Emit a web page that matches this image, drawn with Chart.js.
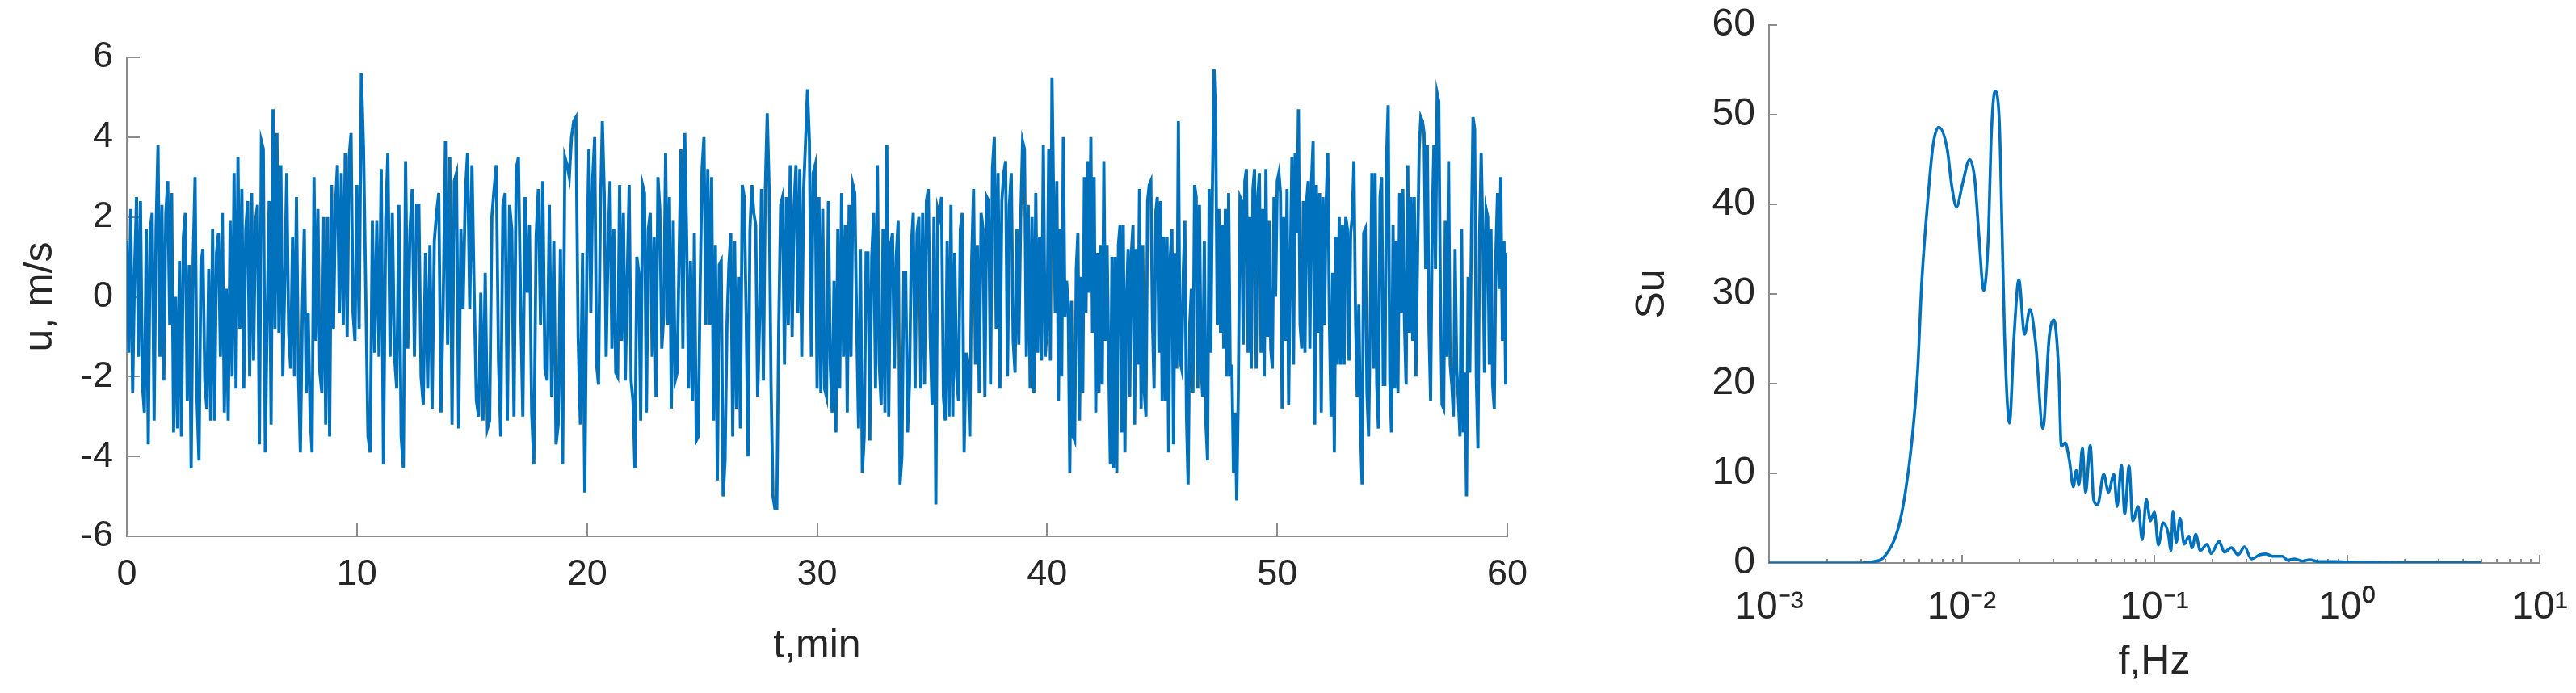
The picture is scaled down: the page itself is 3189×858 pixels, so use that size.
<!DOCTYPE html>
<html>
<head>
<meta charset="utf-8">
<title>u(t) and spectrum</title>
<script src="https://cdn.jsdelivr.net/npm/chart.js@4.4.1/dist/chart.umd.min.js"></script>
<style>
  html, body { margin: 0; padding: 0; background: #fff; }
  #wrap { position: relative; width: 3189px; height: 858px; overflow: hidden; }
  canvas { position: absolute; top: 0; }
</style>
</head>
<body>
<div id="wrap">
  <canvas id="timeChart" width="1950" height="858" style="left:0"></canvas>
  <canvas id="specChart" width="1239" height="858" style="left:1950px"></canvas>
</div>
<script>
// u, m/s, one block per 10 minutes (peaks and troughs in order)
const u0to10 = [1.4, -1.4, 2.2, -2.4, 0.7, 2.5, -1.5, 2.4, -2.2, -2.9, 1.7, -3.7, 1.7, 2.1, -3.1, 1.7, 3.8, -1.5, 2.3, -2.1,
  2.1, 2.9, -0.7, 2.6, -3.4, 0.0, -3.3, 0.9, -3.5, 1.5, 2.1, -2.6, 0.8, -4.3, 0.9, 3.0, -2.6, -4.1, 0.8, 1.2,
  -2.1, -2.8, 0.7, -3.1, 1.7, -3.1, 1.1, 1.6, -1.5, 2.1, -2.9, 0.2, -3.1, 1.9, -2.0, 3.1, -2.3, 3.5, -0.8, 2.7,
  -2.3, 1.7, 2.4, -2.0, 2.6, -1.6, 1.9, 2.3, -3.7, 3.9, 3.7, -3.9, -0.4, 2.4, -3.2, 4.7, -0.8, 4.1, -0.9, 3.3,
  -2.0, 0.4, 3.1, -0.9, -1.8, 1.5, -2.0, 2.5, -1.9, -3.9, -0.4, 1.7, -2.4, -0.4, -3.0, -3.9, 3.0, -1.1, 2.2, -1.9,
  -2.4, 2.0, -3.2, 2.0, -3.5, 2.8, -0.8, 2.3, 3.3, -0.4, 3.1, -0.7, 3.6, -1.0, 3.5, 4.1, -0.4, -1.1];
const u10to20 = [2.8, -0.8, 5.6, 3.7, 0.1, -3.5, -3.9, 1.9, -1.4, 1.9, -1.5, 3.2, -4.2, 1.9, 3.6, -1.5, 2.1, -1.5, -2.3, 2.3,
  -3.5, -4.3, 3.4, -1.3, 1.7, 2.7, -1.5, 2.3, 2.3, -2.0, -2.7, 1.1, -2.3, 1.3, -2.8, 1.4, 2.1, 2.6, -2.9, -0.2,
  3.9, -1.2, 3.5, -3.2, 2.9, 3.1, -3.3, 1.7, -0.3, 2.6, 3.6, -0.3, 3.3, 0.1, -2.6, -3.0, 0.1, -3.1, 0.6, -3.3,
  -3.1, 2.0, 2.7, 3.3, -1.6, -3.5, 2.3, 2.6, -3.1, 2.3, 1.7, -3.0, 3.2, 3.5, -0.2, -3.0, 2.5, 0.1, 1.8, -2.9,
  -4.2, 1.5, 2.7, -0.7, 2.9, -1.8, -2.1, 2.3, -2.5, 1.4, -3.7, -3.2, 1.2, -4.2, 3.5, 3.3, 3.0, 4.0, 4.4, 4.5,
  -1.0, -3.2, 1.1, -4.9];
const u20to30 = [1.1, 3.7, -0.4, 3.0, 4.0, -1.7, -2.2, 2.2, 4.4, 2.6, -1.5, 1.3, 2.9, -1.3, 1.7, -1.9, -2.0, 2.8, -1.1, 2.1,
  -2.1, 0.5, 2.8, -2.1, -2.6, -4.3, 1.0, 0.6, -3.1, 2.8, 2.6, -2.9, 1.7, 2.1, -1.5, 1.5, -2.5, 3.0, 2.2, -1.3,
  -0.5, 3.6, -0.7, 2.5, -2.8, 1.9, -2.1, -1.9, 0.9, 3.7, -1.3, 4.1, 1.4, -2.3, 0.9, -2.6, 1.6, -3.6, -3.5, 0.2,
  3.2, 4.0, -0.7, 3.2, -0.7, 3.0, -3.1, 1.3, -4.6, 0.8, 0.9, -5.0, -4.1, -0.7, 0.8, 1.6, -3.5, 1.4, -2.8, 0.5,
  -3.3, 2.8, 2.5, -0.4, -4.0, 1.7, 2.8, 2.1, 1.8, -2.5, -0.6, 2.7, -2.1, 2.7, 4.6, 2.7, -2.2, -5.0, -5.3, -5.3,
  -0.8, 2.3, 2.5, -1.7, 2.5, -0.7, 3.3, -1.0, 2.3, 3.3, -0.4, 3.2, -1.5, 2.7, 3.9, 5.2, 3.9, -1.5, 3.1, 3.3];
const u30to40 = [-2.3, 2.5, -2.4, 2.2, -2.3, -2.5, 2.4, -1.7, -2.9, 0.4, -3.4, 1.7, -2.3, 2.6, -1.5, 1.8, -2.9, 2.3, -1.5, 2.8,
  2.6, -0.7, -3.3, 1.2, -4.4, -3.5, 1.1, 1.1, -3.6, 1.0, 2.1, -2.3, 3.3, -1.7, -2.7, 1.7, -2.9, 3.8, -3.0, 1.3,
  1.6, -1.8, 1.0, 1.9, -4.7, -4.0, 0.6, 0.6, -3.4, -2.2, 1.3, 2.1, -2.3, 1.6, 2.0, -2.3, 2.1, -2.2, 2.4, 2.7,
  -1.0, -2.7, 2.0, -5.2, 2.2, 2.0, 2.5, -2.5, -3.1, 1.4, -3.0, 2.3, -3.0, 1.1, -2.0, -2.6, 1.7, 2.1, -3.9, -1.4,
  -1.8, -3.5, 0.9, 2.7, -1.7, 1.3, -2.4, 2.1, 1.7, -2.5, 2.5, 2.4, -2.2, 3.2, 4.0, -0.8, 3.1, -2.3, 2.4, 3.1,
  3.4, -2.0, 2.3, 3.1, -1.1, -1.9, 1.7, -1.2, 2.0, 3.9, 3.7, -1.5, 2.3, -2.3, 2.0, -2.4, 2.6, -1.4, 1.5, -1.6,
  3.8, -1.5];
const u40to50 = [-0.8, 3.7, -1.6, 5.5, 2.5, -0.4, 2.9, -2.6, 1.7, -2.0, 4.0, -0.5, 0.4, -0.2, -4.4, -0.1, -3.5, -3.6, 0.7, 1.6,
  -3.1, 0.5, -2.4, 3.0, -0.4, 3.4, 0.1, 4.0, -0.9, 3.0, -2.9, 1.1, -2.4, 1.3, -2.2, 3.4, -1.1, 1.3, -1.7, -4.2,
  1.0, -4.3, 1.0, -4.4, 1.3, 1.8, -3.4, 1.8, -3.9, -0.1, 1.2, -2.5, 1.1, 1.8, -3.2, 1.2, -1.7, 2.7, -2.8, 1.3,
  -2.4, -3.0, 2.4, 2.8, 2.9, -0.6, -2.3, 2.1, 2.5, -1.4, 2.4, -2.6, 1.5, -2.6, 1.5, -3.9, 1.0, 1.7, -3.7, 1.1,
  -1.8, 4.4, -1.6, -1.8, 0.6, 1.9, -3.0, -4.7, -0.7, 0.2, -2.4, 2.8, 2.5, -2.3, 2.3, -1.8, -2.5, 1.4, -3.2, -4.1,
  2.7, -1.4, 2.7, 5.7, 4.5, -0.7, 2.2, -0.9, 1.8, -1.3, 2.2, -2.0, 2.6, -2.0, -1.7, -4.4, -2.9, -5.1, -2.3, 2.5,
  2.4, -1.2, 2.9, 3.2, -1.4, 2.0, -1.8, 2.7, 3.2, -1.8, 2.5, 3.1, -1.4, 2.2, -2.0, 3.2, -1.0, 1.9, -1.3, -1.8,
  2.5, 0.0];
const u50to60 = [2.9, 3.1, 2.6, -2.8, 2.0, -1.1, 2.7, -2.7, 0.7, 3.5, -1.7, 3.6, 1.6, 4.7, -0.7, -1.3, 2.4, -1.4, 2.4, 2.9,
  -1.3, 2.9, 3.9, -3.2, 2.8, -0.9, 2.6, -2.9, 2.5, -0.7, 2.4, 3.6, -0.7, -3.0, 0.6, -3.9, 1.5, -1.7, 2.0, -1.7,
  1.8, -1.7, 2.0, 1.7, -1.6, 1.6, 2.0, 3.4, -0.5, -2.5, -0.2, -3.3, -4.7, 1.6, 1.7, -2.4, -3.5, -0.6, 3.1, -1.8,
  3.1, -2.2, -3.3, 2.5, 3.0, -2.2, -2.2, 3.5, 4.8, -2.1, -3.4, 1.8, -2.3, 1.4, -2.4, 2.6, -0.4, 2.7, -0.7, -2.2,
  3.3, -0.9, 2.5, -1.1, 2.5, -2.0, 1.0, 3.7, 4.5, 4.4, 4.1, 0.7, 3.8, -0.8, -2.6, 1.8, 3.8, 0.7, 5.1, 4.9,
  0.1, -2.7, -2.8, 1.9, -1.5, 3.4, -1.7, -2.2, -3.0, 1.2, -1.8, -2.6, -3.5, 1.7, -3.4, -1.9, -5.0, 0.5, -1.9, 1.5,
  4.5, 4.2, -2.0, -3.8, 1.5, 3.6, 1.6, -1.9, 2.2, 2.0, -1.7, 1.7, -2.2, -2.8, 1.1, 2.6, 0.2, 3.0, -1.1, 1.4,
  -2.2, 1.1];
const uBlocks = [u0to10, u10to20, u20to30, u30to40, u40to50, u50to60];

// spectrum Su(f)
const freqHz = [0.001, 0.0029, 0.0034, 0.0040, 0.0047, 0.0051, 0.0055, 0.0059, 0.0062, 0.0067,
  0.0071, 0.0076, 0.0084, 0.0089, 0.0094, 0.0101, 0.0110, 0.0117, 0.0123, 0.0130,
  0.0138, 0.0142, 0.0149, 0.0157, 0.0162, 0.0167, 0.0177, 0.0187, 0.0198, 0.0212,
  0.0226, 0.0242, 0.0264, 0.0285, 0.0301, 0.0319, 0.0329, 0.0345, 0.0362, 0.0380,
  0.0393, 0.0406, 0.0423, 0.0440, 0.0465, 0.0484, 0.0508, 0.0546, 0.0578, 0.0617,
  0.0641, 0.0675, 0.0702, 0.0739, 0.0773, 0.0824, 0.0865, 0.0909, 0.0954, 0.100,
  0.105, 0.111, 0.118, 0.122, 0.125, 0.130, 0.136, 0.143, 0.151, 0.157,
  0.164, 0.173, 0.188, 0.197, 0.217, 0.231, 0.251, 0.272, 0.294, 0.319,
  0.352, 0.381, 0.413, 0.462, 0.493, 0.535, 0.589, 0.638, 0.715, 0.867,
  1.0, 1.32, 2.14, 5.0];
const suValues = [0, 0, 0.1, 0.8, 4.0, 7.9, 13.4, 21.3, 31.2, 41.0,
  46.6, 48.6, 46.2, 41.9, 39.7, 42.3, 45.0, 42.7, 36.4, 30.4,
  37.2, 47.0, 52.6, 49.0, 37.2, 25.3, 15.6, 25.3, 31.6, 25.5,
  28.3, 24.5, 15.0, 25.3, 27.1, 21.3, 13.0, 13.4, 11.5, 8.5,
  10.3, 8.7, 12.8, 7.9, 13.1, 7.1, 6.5, 9.9, 7.9, 9.9,
  6.3, 10.9, 5.5, 10.8, 4.7, 6.3, 2.6, 7.1, 4.7, 5.7,
  2.0, 4.5, 3.3, 1.4, 5.7, 2.3, 5.0, 2.1, 3.0, 1.7,
  3.2, 1.4, 2.1, 1.05, 2.4, 1.2, 1.7, 0.9, 1.8, 0.45,
  0.9, 1.0, 0.75, 0.75, 0.3, 0.45, 0.2, 0.36, 0.15, 0.15,
  0.1, 0.06, 0.02, 0.01];

const freqTicks = [0.001, 0.01, 0.1, 1, 10];
const freqTickLabels = ['10\u207B\u00B3', '10\u207B\u00B2', '10\u207B\u00B9', '10\u2070', '10\u00B9'];

const LINE_BLUE = '#0072BD';
const AXIS_GRAY = '#8c8c8c';
const TEXT = '#262626';
const FONT = "'Liberation Sans', Arial, Helvetica, sans-serif";

// time points: each 10-minute block is sampled evenly
const timeSeries = [];
uBlocks.forEach((block, b) => {
  const last = b === uBlocks.length - 1;
  const step = 10 / (last ? block.length - 1 : block.length);
  block.forEach((v, i) => timeSeries.push({ x: b * 10 + i * step, y: v }));
});

const spectrum = [];
for (let i = 0; i < Math.min(freqHz.length, suValues.length); i++) {
  spectrum.push({ x: freqHz[i], y: suValues[i] });
}

// minor ticks of the log axis (2..9 in each decade)
const freqMinor = [];
freqTicks.slice(0, -1).forEach(d => { for (let k = 2; k <= 9; k++) freqMinor.push(d * k); });

// MATLAB style ticks pointing into the plot
const insideTicks = {
  id: 'insideTicks',
  beforeDatasetsDraw(chart, args, opts) {
    const { ctx, chartArea } = chart;
    const xs = chart.scales.x, ys = chart.scales.y;
    ctx.save();
    ctx.strokeStyle = AXIS_GRAY;
    ctx.lineWidth = 2;
    ctx.beginPath();
    xs.ticks.forEach(t => {
      const px = Math.round(xs.getPixelForValue(t.value));
      ctx.moveTo(px, chartArea.bottom);
      ctx.lineTo(px, chartArea.bottom - opts.len);
    });
    (opts.minor || []).forEach(v => {
      const px = Math.round(xs.getPixelForValue(v));
      ctx.moveTo(px, chartArea.bottom);
      ctx.lineTo(px, chartArea.bottom - opts.len / 2);
    });
    ys.ticks.forEach(t => {
      const py = Math.round(ys.getPixelForValue(t.value));
      ctx.moveTo(chartArea.left, py);
      ctx.lineTo(chartArea.left + opts.len, py);
    });
    ctx.stroke();
    ctx.restore();
  }
};

function axisBase(tickSize, tickPad) {
  return {
    grid: { display: false, drawTicks: false },
    border: { display: true, color: AXIS_GRAY, width: 2 },
    ticks: { color: TEXT, font: { family: FONT, size: tickSize }, padding: tickPad, maxRotation: 0, autoSkip: false }
  };
}

const timeX = axisBase(45, 21);
Object.assign(timeX, {
  type: 'linear', min: 0, max: 60,
  title: { display: true, text: 't,min', color: TEXT, font: { family: FONT, size: 50 }, padding: 28 },
  afterFit(scale) { scale.height = 194; scale.paddingLeft = 0; scale.paddingRight = 0; }
});
timeX.ticks.stepSize = 10;

const timeY = axisBase(45, 17);
Object.assign(timeY, {
  type: 'linear', min: -6, max: 6,
  title: { display: true, text: 'u, m/s', color: TEXT, font: { family: FONT, size: 50 }, padding: 20 },
  afterFit(scale) { scale.width = 157; scale.paddingTop = 0; scale.paddingBottom = 0; }
});
timeY.ticks.stepSize = 2;
timeY.ticks.callback = v => String(v);

new Chart(document.getElementById('timeChart'), {
  type: 'line',
  data: {
    datasets: [{
      data: timeSeries,
      borderColor: LINE_BLUE,
      borderWidth: 3.8,
      pointRadius: 0,
      tension: 0,
      fill: false
    }]
  },
  options: {
    responsive: false,
    animation: false,
    devicePixelRatio: 1,
    parsing: false,
    layout: { padding: { left: 0, top: 71, right: 84, bottom: 0 } },
    scales: { x: timeX, y: timeY },
    plugins: { legend: { display: false }, tooltip: { enabled: false }, insideTicks: { len: 16 } }
  },
  plugins: [insideTicks]
});

const specX = axisBase(48, 27);
Object.assign(specX, {
  type: 'logarithmic', min: 0.001, max: 10,
  title: { display: true, text: 'f,Hz', color: TEXT, font: { family: FONT, size: 50 }, padding: 8 },
  afterBuildTicks(scale) { scale.ticks = freqTicks.map(v => ({ value: v })); },
  afterFit(scale) { scale.height = 161; scale.paddingLeft = 0; scale.paddingRight = 0; }
});
specX.ticks.callback = (v, i) => freqTickLabels[i];

const specY = axisBase(48, 17);
Object.assign(specY, {
  type: 'linear', min: 0, max: 60,
  title: { display: true, text: 'Su', color: TEXT, font: { family: FONT, size: 50 }, padding: 66 },
  afterFit(scale) { scale.width = 240; scale.paddingTop = 0; scale.paddingBottom = 0; }
});
specY.ticks.stepSize = 10;

new Chart(document.getElementById('specChart'), {
  type: 'line',
  data: {
    datasets: [{
      data: spectrum,
      borderColor: LINE_BLUE,
      borderWidth: 3.6,
      pointRadius: 0,
      cubicInterpolationMode: 'monotone',
      fill: false
    }]
  },
  options: {
    responsive: false,
    animation: false,
    devicePixelRatio: 1,
    parsing: false,
    layout: { padding: { left: 0, top: 31, right: 45, bottom: 0 } },
    scales: { x: specX, y: specY },
    plugins: { legend: { display: false }, tooltip: { enabled: false }, insideTicks: { len: 10, minor: freqMinor } }
  },
  plugins: [insideTicks]
});
</script>
</body>
</html>
